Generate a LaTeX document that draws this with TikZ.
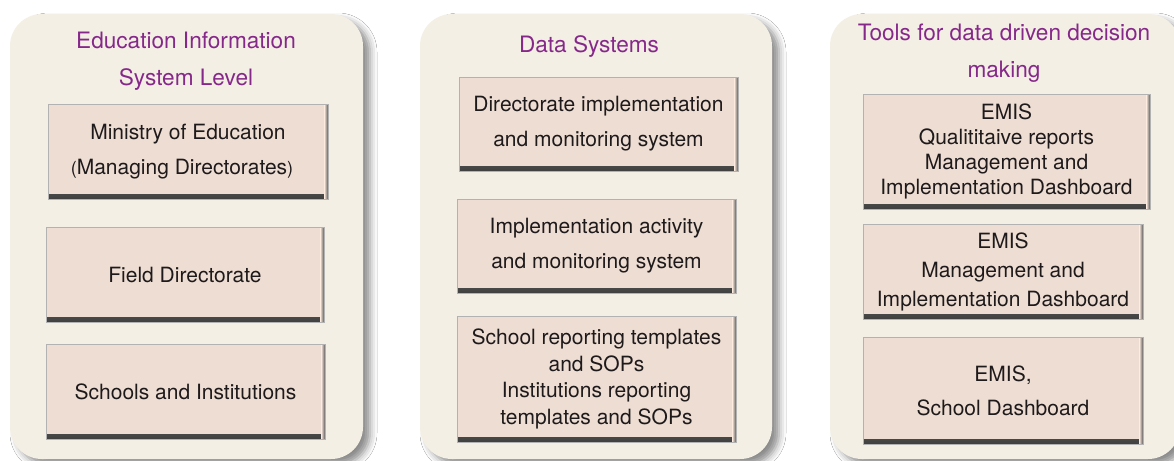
\documentclass[tikz,border=0pt]{standalone}
\usepackage{fontspec}
\setmainfont{TeX Gyre Heros}
\usetikzlibrary{backgrounds,shadows.blur}
\definecolor{panelfill}{HTML}{F3EFE4}
\definecolor{boxfill}{HTML}{EEDDD3}
\definecolor{titlepurple}{HTML}{86288A}
\definecolor{boxtext}{HTML}{1E1A1B}

\begin{document}
\begin{tikzpicture}[x=0.5pt, y=-0.5pt,
  background rectangle/.style={fill=white}, show background rectangle, inner frame sep=0pt,
  panel/.style={fill=panelfill, rounded corners=16pt,
    blur shadow={shadow xshift=3.5pt, shadow yshift=-3pt, shadow blur radius=3.5pt, shadow opacity=45}},
  headline/.style={text=titlepurple, align=center, inner sep=0pt, font=\fontsize{11.3}{18.5}\selectfont},
  level/.style={draw=black!30, line width=0.4pt, fill=boxfill, text=boxtext, align=center, inner sep=0pt,
    path picture={
      \shade[top color=boxfill, bottom color=black!75] ([yshift=2.4pt]path picture bounding box.south west) rectangle (path picture bounding box.south east);
      \shade[left color=boxfill, right color=black!65] ([xshift=-1.8pt]path picture bounding box.north east) rectangle (path picture bounding box.south east);
    }},
  ]
  \useasboundingbox (0,0) rectangle (1174,461);
  % Panels
  \path[panel] (10,14) rectangle (363,459);
  \path[panel] (420,14) rectangle (772,459);
  \path[panel] (830,14) rectangle (1180,459);
  % Headings
  \node[headline] (levelhead) at (186,61.5) {Education Information\\System Level};
  \node[headline] (datahead) at (589,47) {Data Systems};
  \node[headline] (toolshead) at (1004,53.5) {Tools for data driven decision\\making};
  % Education Information System Level
  \node[level, minimum width=140pt, minimum height=47.5pt, font=\fontsize{10.5}{17.5}\selectfont]
    (ministry) at (188,151.5) {Ministry of Education\\{\fontsize{9}{9}\selectfont(}Managing Directorates{\fontsize{9}{9}\selectfont)}\hspace*{6pt}};
  \node[level, minimum width=139pt, minimum height=47.5pt, font=\fontsize{10.5}{17.5}\selectfont]
    (field) at (185,274.5) {Field Directorate};
  \node[level, minimum width=139.5pt, minimum height=47.5pt, font=\fontsize{10.5}{17.5}\selectfont]
    (schools) at (185.5,391.5) {Schools and Institutions};
  % Data Systems
  \node[level, minimum width=139.5pt, minimum height=47pt, font=\fontsize{10.5}{17.5}\selectfont]
    (dirsys) at (598.5,124) {Directorate implementation\\and monitoring system};
  \node[level, minimum width=139.5pt, minimum height=47pt, font=\fontsize{10.5}{17.5}\selectfont]
    (actsys) at (596.5,246) {Implementation activity\\and monitoring system};
  \node[level, minimum width=139.5pt, minimum height=63pt, font=\fontsize{10.5}{13.3}\selectfont]
    (templates) at (596.5,379) {School reporting templates\\and SOPs\\Institutions reporting\\templates and SOPs};
  % Tools for data driven decision making
  \node[level, minimum width=143.5pt, minimum height=57.5pt, font=\fontsize{10.5}{12.5}\selectfont]
    (qualdash) at (1006.5,151.5) {EMIS\\Qualititaive reports\\Management and\\Implementation Dashboard};
  \node[level, minimum width=140pt, minimum height=47.5pt, font=\fontsize{10.5}{14.5}\selectfont]
    (mgmtdash) at (1003,271.5) {EMIS\\Management and\\Implementation Dashboard};
  \node[level, minimum width=140pt, minimum height=53.5pt, font=\fontsize{10.5}{17}\selectfont]
    (schooldash) at (1003,390.5) {EMIS,\\School Dashboard};
\end{tikzpicture}
\end{document}
